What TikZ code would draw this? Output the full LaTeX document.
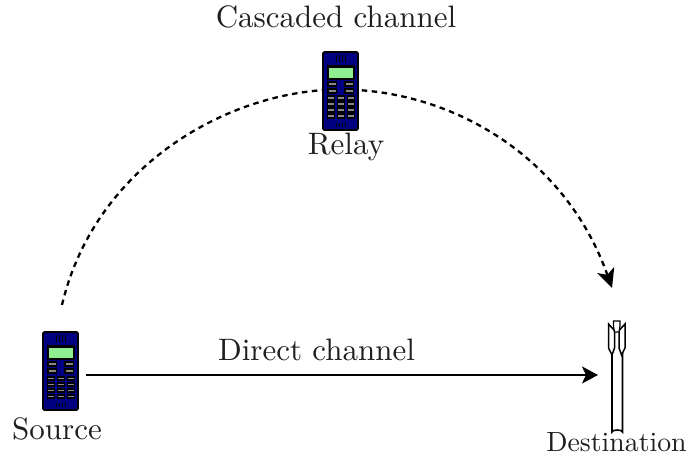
\documentclass[tikz,border=0pt]{standalone}
\usetikzlibrary{arrows.meta}
\definecolor{phoneblue}{RGB}{0,0,128}
\definecolor{phonegreen}{RGB}{144,238,144}
\definecolor{keygrey}{RGB}{135,135,135}
\tikzset{
  x=1pt,y=-1pt,
  lbl/.style={inner sep=0pt,scale=3.1,text=black!88},
  lblsmall/.style={inner sep=0pt,scale=2.78,text=black!88},
  hook/.style={inner sep=0pt,outer sep=0pt,minimum width=#1,minimum height=2pt},
  link/.style={line width=2pt,-{Stealth[length=16pt,width=17pt,inset=4pt]}},
  pics/phone/.style={code={
    \fill[rounded corners=1.5pt,phoneblue,draw=black,line width=1.8pt] (0,0) rectangle (35,78);
    \fill[black] (4,13) rectangle (32,28);
    \fill[phonegreen,draw=black,line width=.6pt] (5.5,15) rectangle (30.5,26);
    \foreach \x in {13,16,19,22}{\draw[black,line width=.8pt] (\x,3) -- (\x,10);\draw[black,line width=.8pt] (\x,71) -- (\x,75);}
    \foreach \x in {4,21}{
      \foreach \y in {29,36}{
        \fill[black] (\x,\y) rectangle +(10,6);
        \fill[keygrey] (\x+1.5,\y+2) rectangle +(7,1.6);
      }
    }
    \foreach \y in {43.5,49.5,55.5,61.5}{
      \foreach \x in {3.5,13.5,23.5}{
        \fill[black] (\x,\y) rectangle +(8.5,5.2);
        \fill[keygrey] (\x+1.2,\y+2) rectangle +(6,1.4);
      }
    }
  }},
  pics/antenna/.style={code={
    \draw[line width=1.6pt,fill=white] (3.5,30) -- (3.5,112) arc[start angle=180,end angle=360,x radius=5.25,y radius=2] -- (14,30);
    \draw[line width=1.5pt,fill=white] (0,4) -- (0,28) -- (3.5,35) -- (6,28) -- (6,10) -- (10.5,10) -- (10.5,28) -- (13,35) -- (16.5,28) -- (16.5,4) -- (11,10) -- (5.5,10) -- cycle;
    \draw[line width=1.2pt,fill=white] (5,6) -- (5,1) -- (11.5,1) -- (11.5,6) -- (10.5,12) -- (6,12) -- cycle;
  }}
}
\begin{document}
\begin{tikzpicture}
\useasboundingbox (0,0) rectangle (688,457);
\node[hook=35pt] (source) at (60.5,375) {};
\node[hook=35pt] (relay) at (340.5,89.5) {};
\node[hook=17pt] (dest) at (616.5,375) {};
\coordinate (arcstart) at (62,305);
\coordinate (arcend) at (612,288);
\draw[line width=2.3pt,dash pattern=on 5.5pt off 4.5pt,-{Stealth[length=19pt,width=18pt,inset=5pt]}]
  (arcstart) .. controls (95,165) and (230,89.5) .. (relay.center)
  .. controls (450,89.5) and (565,155) .. (arcend);
\draw[link] ([xshift=8pt]source.east) -- ([xshift=-10pt]dest.west);
\pic at (43,332) {phone};
\pic at (323,52) {phone};
\pic at (608.5,320) {antenna};
\node[lbl,anchor=base] (cascade) at (336,28) {Cascaded channel};
\node[lbl,anchor=base] (relaylbl) at (346,155) {Relay};
\node[lbl,anchor=base] (directlbl) at (316.5,360) {Direct channel};
\node[lbl,anchor=base] (sourcelbl) at (57,439) {Source};
\node[lblsmall,anchor=base] (destlbl) at (616.5,451) {Destination};
\end{tikzpicture}
\end{document}
